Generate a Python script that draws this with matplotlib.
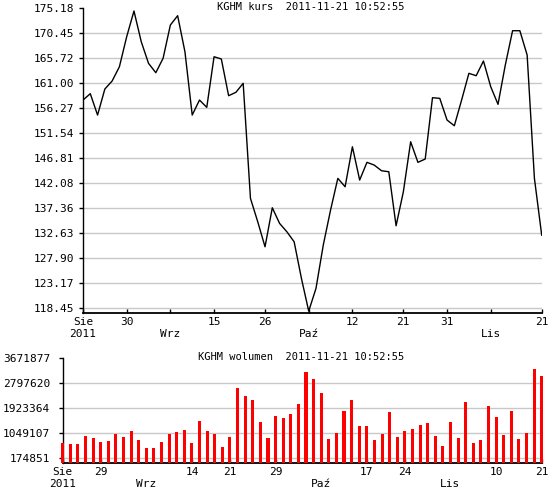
import matplotlib.pyplot as plt

# kurs zamkniecia, kolejne sesje 2011-08-22 .. 2011-11-21
kurs = [157.83, 159.03, 154.99, 159.91, 161.43, 164.13, 169.81, 174.67, 168.86, 164.77,
        163.00, 165.72, 172.02, 173.78, 166.97, 154.99, 157.83, 156.45, 166.02, 165.59,
        158.65, 159.29, 160.99, 139.23, 134.81, 130.08, 137.46, 134.50, 132.92, 131.02,
        124.10, 117.91, 122.21, 130.40, 137.02, 143.02, 141.43, 148.99, 142.70, 146.05,
        145.53, 144.46, 144.27, 134.05, 140.49, 149.94, 146.05, 146.67, 158.27, 158.15,
        154.05, 152.97, 157.83, 162.88, 162.43, 165.21, 160.35, 157.02, 164.45, 170.94,
        170.94, 166.34, 143.02, 132.29]

wolumen = [699000, 675000, 675000, 955000, 885000, 745000, 780000, 1025000, 920000, 1130000,
           815000, 535000, 535000, 745000, 1025000, 1095000, 1165000, 710000, 1480000, 1130000,
           1025000, 570000, 920000, 2633000, 2353000, 2213000, 1445000, 885000, 1655000, 1585000,
           1725000, 2074000, 3193000, 2948000, 2458000, 850000, 1060000, 1829000, 2213000, 1305000,
           1305000, 815000, 1025000, 1794000, 920000, 1130000, 1200000, 1340000, 1410000, 955000,
           605000, 1445000, 885000, 2144000, 710000, 815000, 2004000, 1620000, 990000, 1829000,
           850000, 1060000, 3298000, 3053000]

kurs_ticks = [118.45, 123.1775, 127.905, 132.6325, 137.36, 142.0875, 146.815,
              151.5425, 156.27, 160.9975, 165.725, 170.4525, 175.18]
kurs_labels = ['118.45', '123.17', '127.90', '132.63', '137.36', '142.08', '146.81',
               '151.54', '156.27', '161.00', '165.72', '170.45', '175.18']
kurs_xpos = [0, 6, 12, 18, 25, 31, 37, 44, 50, 56, 63]
kurs_xlab = ['Sie\n2011', '30', '\nWrz', '15', '26', '\nPaź', '12', '21', '31', '\nLis', '21']

wol_ticks = [174851, 1049107, 1923364, 2797620, 3671877]
wol_labels = ['174851', '1049107', '1923364', '2797620', '3671877']
wol_xpos = [0, 5, 11, 17, 22, 28, 34, 40, 45, 51, 57, 63]
wol_xlab = ['Sie\n2011', '29', '\nWrz', '14', '21', '29', '\nPaź', '17', '24', '\nLis', '10', '21']

plt.rcParams['font.family'] = 'DejaVu Sans Mono'
plt.rcParams['font.size'] = 8

W, H = 552, 497
fig = plt.figure(figsize=(W / 100, H / 100), dpi=100)


def style(ax, yticks, ylabels, xpos, xlab, ypad):
    for s in ['top', 'right']:
        ax.spines[s].set_visible(False)
    ax.spines['left'].set_linewidth(1.0)
    ax.spines['bottom'].set_linewidth(1.3)
    ax.set_yticks(yticks)
    ax.set_yticklabels(ylabels)
    ax.set_xticks(xpos)
    ax.set_xticklabels(xlab, linespacing=1.25)
    ax.tick_params(axis='y', direction='out', length=3, width=1, pad=ypad)
    ax.tick_params(axis='x', direction='in', length=3, width=1, pad=3)
    for t in yticks[:-1]:
        ax.axhline(t, color='#c8c8c8', lw=1, zorder=0)
    ax.set_xlim(0, 63)


ax1 = fig.add_axes([83 / W, 1 - 313.3 / H, 458.7 / W, 305 / H])
ax1.plot(range(len(kurs)), kurs, color='black', lw=1.0, zorder=3)
ax1.set_ylim(117.5, 175.18)
style(ax1, kurs_ticks, kurs_labels, kurs_xpos, kurs_xlab, 3)
fig.text(311 / W, 1 - 7.5 / H, 'KGHM kurs  2011-11-21 10:52:55',
         ha='center', va='center', fontsize=7.5)

ax2 = fig.add_axes([62.7 / W, 1 - 463.3 / H, 479 / W, 105 / H])
ax2.bar(range(len(wolumen)), wolumen, width=0.4, color='#ff0000', zorder=3, clip_on=False)
ax2.set_ylim(0, 3671877)
style(ax2, wol_ticks, wol_labels, wol_xpos, wol_xlab, 6)
fig.text(301 / W, 1 - 356.7 / H, 'KGHM wolumen  2011-11-21 10:52:55',
         ha='center', va='center', fontsize=7.5)

fig.savefig('out.png', dpi=100)
